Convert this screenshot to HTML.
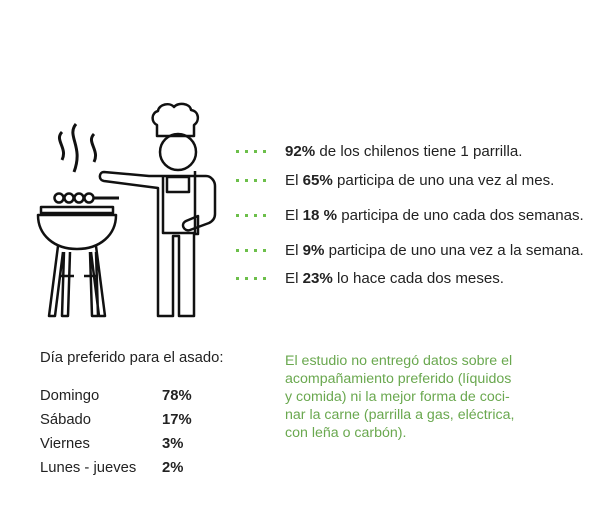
<!DOCTYPE html>
<html><head><meta charset="utf-8"><style>
body{margin:0;width:599px;height:507px;background:#fff;position:relative;overflow:hidden;font-family:"Liberation Sans",sans-serif;color:#222}
.t{position:absolute;font-size:15.1px;white-space:nowrap;left:285px}
.d{position:absolute;left:236px;width:32px;height:3px;background:repeating-linear-gradient(90deg,#6cbf4a 0 3px,transparent 3px 9px)}
.b{font-weight:bold}
.l{position:absolute;font-size:14.8px;left:40px;white-space:nowrap}
.p{position:absolute;font-size:14.8px;left:162px;font-weight:bold}
.g{position:absolute;left:285px;top:352px;width:280px;font-size:14.2px;line-height:18px;color:#6aa84f;white-space:nowrap}
</style></head><body>
<svg style="position:absolute;left:0;top:0" width="240" height="330" fill="none" stroke="#111" stroke-width="2.5" stroke-linejoin="round">
<path d="M62 132c-8 8 6 16 0 28M76 124c-10 12 8 22 -2 48M94 134c-8 8 6 16 0 28" stroke-width="3"/>
<g><circle cx="59" cy="198" r="4.5"/><circle cx="69" cy="198" r="4.5"/><circle cx="79" cy="198" r="4.5"/><circle cx="89" cy="198" r="4.5"/><line x1="94" y1="198" x2="119" y2="198" stroke-width="3"/></g>
<rect x="41" y="207" width="72" height="6"/>
<path d="M38 215h78c0 20-16 34-39 34s-39-14-39-34z"/>
<path d="M58 246l-9 70h6l8-64M64 252l-2 64h6l2-64M90 252l2 64h6l-2-64M96 246l9 70h-6l-8-64M60 276h14M84 276h14"/>
<path d="M157 125c-6-3-6-12 1-14 1-7 12-9 16-4 4-5 16-4 17 3 8 1 9 11 3 15v11h-37z"/>
<circle cx="178" cy="152" r="18"/>
<path d="M104 172c-5 0-6 8 0 9l54 7v128h15v-80h6v80h15v-82h4v-18l-12 5c-6 3-2 11 4 9l19-7c4-2 6-5 6-9v-28c0-5-4-10-9-10h-57l-45-4z"/>
<path d="M163 175v58h32v-62M167 177h22v15h-22z"/>
</svg>
<div class="d" style="top:150px"></div>
<div class="d" style="top:179px"></div>
<div class="d" style="top:214px"></div>
<div class="d" style="top:249px"></div>
<div class="d" style="top:277px"></div>
<div class="t" style="top:143px"><span class="b">92%</span> de los chilenos tiene 1 parrilla.</div>
<div class="t" style="top:172px">El <span class="b">65%</span> participa de uno una vez al mes.</div>
<div class="t" style="top:207px">El <span class="b">18 %</span> participa de uno cada dos semanas.</div>
<div class="t" style="top:242px">El <span class="b">9%</span> participa de uno una vez a la semana.</div>
<div class="t" style="top:270px">El <span class="b">23%</span> lo hace cada dos meses.</div>
<div class="l" style="top:350px">Día preferido para el asado:</div>
<div class="l" style="top:388px">Domingo</div>
<div class="l" style="top:412px">Sábado</div>
<div class="l" style="top:436px">Viernes</div>
<div class="l" style="top:460px">Lunes - jueves</div>
<div class="p" style="top:388px">78%</div>
<div class="p" style="top:412px">17%</div>
<div class="p" style="top:436px">3%</div>
<div class="p" style="top:460px">2%</div>
<div class="g">El estudio no entregó datos sobre el<br>acompañamiento preferido (líquidos<br>y comida) ni la mejor forma de coci-<br>nar la carne (parrilla a gas, eléctrica,<br>con leña o carbón).</div>
</body></html>
